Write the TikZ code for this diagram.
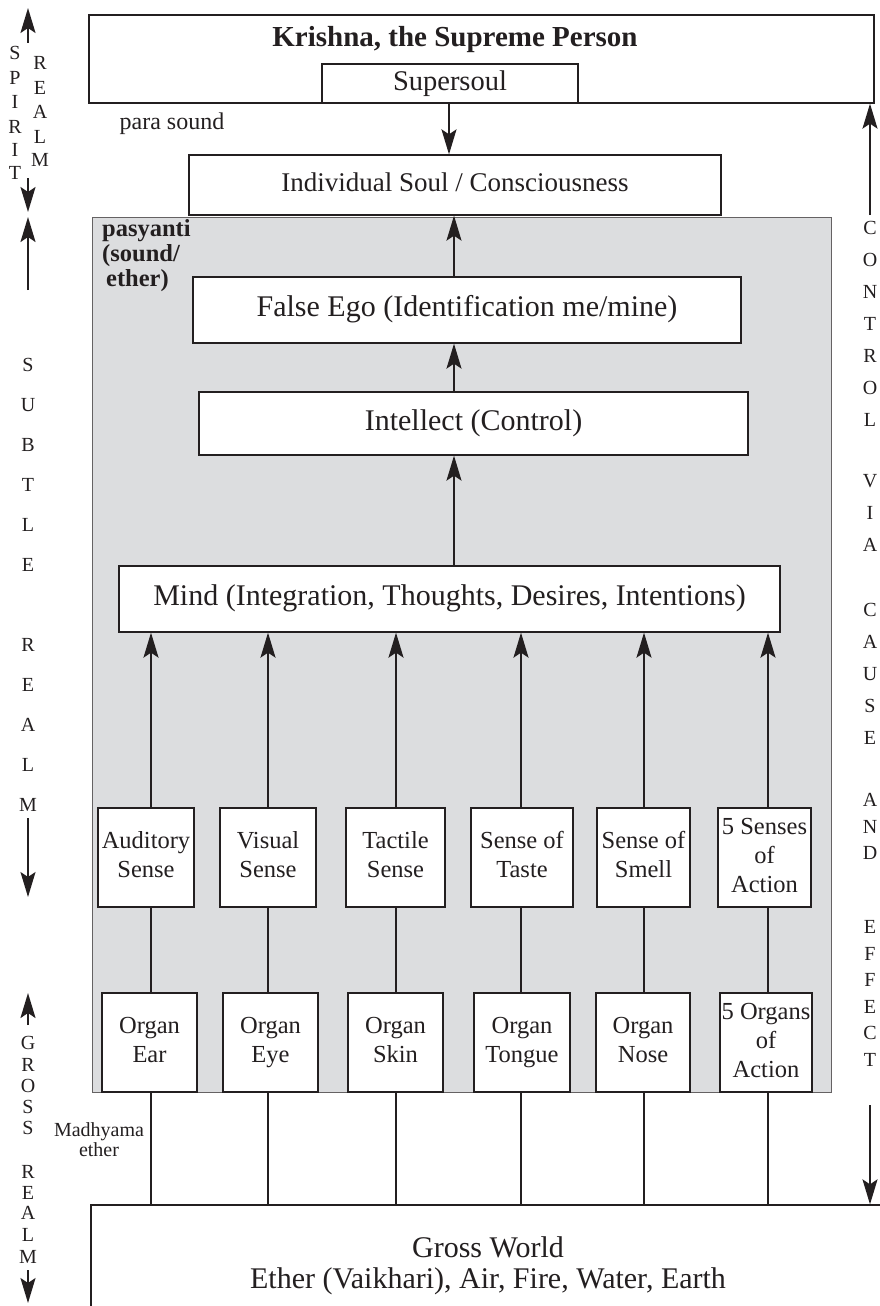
\documentclass[tikz,border=0pt]{standalone}
\usepackage{fontspec}
\setmainfont{Liberation Serif}
\usetikzlibrary{arrows.meta,calc}
\definecolor{panel}{RGB}{220,221,223}
\definecolor{ink}{RGB}{35,31,32}
\begin{document}
\begin{tikzpicture}[x=1pt,y=-1pt,
  box/.style={draw=ink, line width=1.3pt, fill=white, inner sep=0pt, align=center, text=ink},
  bigtxt/.style={font=\fontsize{30}{34}\selectfont},
  smalltxt/.style={font=\fontsize{24.5}{29}\selectfont},
  arr/.style={draw=ink, line width=2pt, -{Stealth[length=25pt,width=15pt,inset=5pt]}},
  ln/.style={draw=ink, line width=2pt},
  ltr/.style={text=ink, font=\fontsize{20}{20}\selectfont, inner sep=0pt},
  lbl/.style={text=ink, inner sep=0pt, align=center}
]
\useasboundingbox (0,0) rectangle (880,1306);
\clip (0,0) rectangle (880,1306);

% top box
\node[box, minimum width=785, minimum height=88] (top) at (481.5,59) {};
\node[lbl, font=\fontsize{29}{32}\selectfont\bfseries] (title) at (455,40) {Krishna, the Supreme Person};
\node[box, minimum width=256, minimum height=39, font=\fontsize{28.5}{32}\selectfont] (super) at (450,83.5) {Supersoul};
\node[lbl, font=\fontsize{24}{28}\selectfont] (para) at (172,124) {para sound};

% individual soul
\node[box, minimum width=532, minimum height=60, font=\fontsize{27}{30}\selectfont] (indiv) at (455,185) {\strut Individual Soul / Consciousness};

% gray panel
\node[draw=ink!70, line width=1pt, fill=panel, minimum width=739, minimum height=875, inner sep=0pt] (panel) at (461.5,654.5) {};
\node[lbl, anchor=north west, align=left, font=\fontsize{24.5}{25}\selectfont\bfseries] (pas) at (102,219) {pasyanti\\(sound/\\\hspace{4pt}ether)};

% main column
\node[box, bigtxt, minimum width=548, minimum height=66] (ego) at (467,310) {\strut False Ego (Identification me/mine)};
\node[box, bigtxt, minimum width=549, minimum height=63] (intel) at (473.5,423.5) {\strut Intellect (Control)};
\node[box, bigtxt, minimum width=661, minimum height=66] (mind) at (449.5,599) {\strut Mind (Integration, Thoughts, Desires, Intentions)};

% senses
\node[box, smalltxt, minimum width=96, minimum height=99] (s1) at (146,857.5) {\strut Auditory\\Sense\strut};
\node[box, smalltxt, minimum width=96, minimum height=99] (s2) at (268,857.5) {\strut Visual\\Sense\strut};
\node[box, smalltxt, minimum width=99, minimum height=99] (s3) at (395.5,857.5) {\strut Tactile\\Sense\strut};
\node[box, smalltxt, minimum width=102, minimum height=99] (s4) at (522,857.5) {\strut Sense of\\Taste\strut};
\node[box, smalltxt, minimum width=93, minimum height=99] (s5) at (643.5,857.5) {\strut Sense of\\Smell\strut};
\node[box, smalltxt, minimum width=93, minimum height=99] (s6) at (764.5,857.5) {\strut 5 Senses\\of\\Action\strut};

% organs
\node[box, smalltxt, minimum width=95, minimum height=99] (o1) at (149.5,1042.5) {\strut Organ\\Ear\strut};
\node[box, smalltxt, minimum width=95, minimum height=99] (o2) at (270.5,1042.5) {\strut Organ\\Eye\strut};
\node[box, smalltxt, minimum width=95, minimum height=99] (o3) at (395.5,1042.5) {\strut Organ\\Skin\strut};
\node[box, smalltxt, minimum width=96, minimum height=99] (o4) at (522,1042.5) {\strut Organ\\Tongue\strut};
\node[box, smalltxt, minimum width=94, minimum height=99] (o5) at (643,1042.5) {\strut Organ\\Nose\strut};
\node[box, smalltxt, minimum width=92, minimum height=99] (o6) at (766,1042.5) {\strut 5 Organs\\of\\Action\strut};

% gross world
\node[box, minimum width=794, minimum height=124, font=\fontsize{30}{29}\selectfont] (gw) at (488,1267) {\strut Gross World\\Ether (Vaikhari), Air, Fire, Water, Earth\strut};
\node[lbl, font=\fontsize{20}{20}\selectfont] (madh) at (99,1140) {Madhyama\\ether};

% main arrows
\coordinate (ax) at (454,0);
\coordinate (sx) at (449,0);
\draw[arr] (super.south -| sx) -- (indiv.north -| sx);
\draw[arr] (ego.north -| ax) -- (indiv.south -| ax);
\draw[arr] (intel.north -| ax) -- (ego.south -| ax);
\draw[arr] (mind.north -| ax) -- (intel.south -| ax);

% sense columns
\foreach \i/\x in {1/151,2/268,3/396,4/521,5/644,6/768}{
  \coordinate (c\i) at (\x,0);
  \draw[arr] (s\i.north -| c\i) -- (mind.south -| c\i);
  \draw[ln] (s\i.south -| c\i) -- (o\i.north -| c\i);
  \draw[ln] (o\i.south -| c\i) -- (gw.north -| c\i);
}

% right column
\coordinate (rt) at (870,215);
\coordinate (rb) at (870,1105);
\draw[arr] (rt) -- (rt |- top.south);
\draw[arr] (rb) -- (rb |- gw.north);
\foreach \l/\y in {C/228,O/260,N/292,T/324,R/356,O/388,L/420,V/481,I/513,A/545,C/610,A/642,U/674,S/706,E/738,A/800,N/827,D/853,E/927,F/954,F/980,E/1007,C/1033,T/1060}{
  \node[ltr] (r\y) at (870,\y) {\l};
}

% left column: spirit realm
\coordinate (l1a) at (28,43); \coordinate (l1b) at (28,8);
\draw[arr] (l1a) -- (l1b);
\foreach \l/\y in {S/53,P/78,I/102,R/127,I/150,T/173}{
  \node[ltr] (sp\y) at (15,\y) {\l};
}
\foreach \l/\y in {R/63,E/88,A/112,L/137,M/160}{
  \node[ltr] (sr\y) at (40,\y) {\l};
}
\coordinate (l2a) at (28,178); \coordinate (l2b) at (28,212);
\draw[arr] (l2a) -- (l2b);

% subtle realm
\coordinate (l3a) at (28,290); \coordinate (l3b) at (28,217);
\draw[arr] (l3a) -- (l3b);
\foreach \l/\y in {S/365,U/405,B/445,T/485,L/525,E/565,R/645,E/685,A/725,L/765,M/805}{
  \node[ltr] (su\y) at (28,\y) {\l};
}
\coordinate (l4a) at (28,818); \coordinate (l4b) at (28,897);
\draw[arr] (l4a) -- (l4b);

% gross realm
\coordinate (l5a) at (28,1025); \coordinate (l5b) at (28,993);
\draw[arr] (l5a) -- (l5b);
\foreach \l/\y in {G/1043,R/1065,O/1086,S/1107,S/1128,R/1172,E/1193,A/1213,L/1235,M/1257}{
  \node[ltr] (gr\y) at (28,\y) {\l};
}
\coordinate (l6a) at (28,1270); \coordinate (l6b) at (28,1303);
\draw[arr] (l6a) -- (l6b);
\end{tikzpicture}
\end{document}
